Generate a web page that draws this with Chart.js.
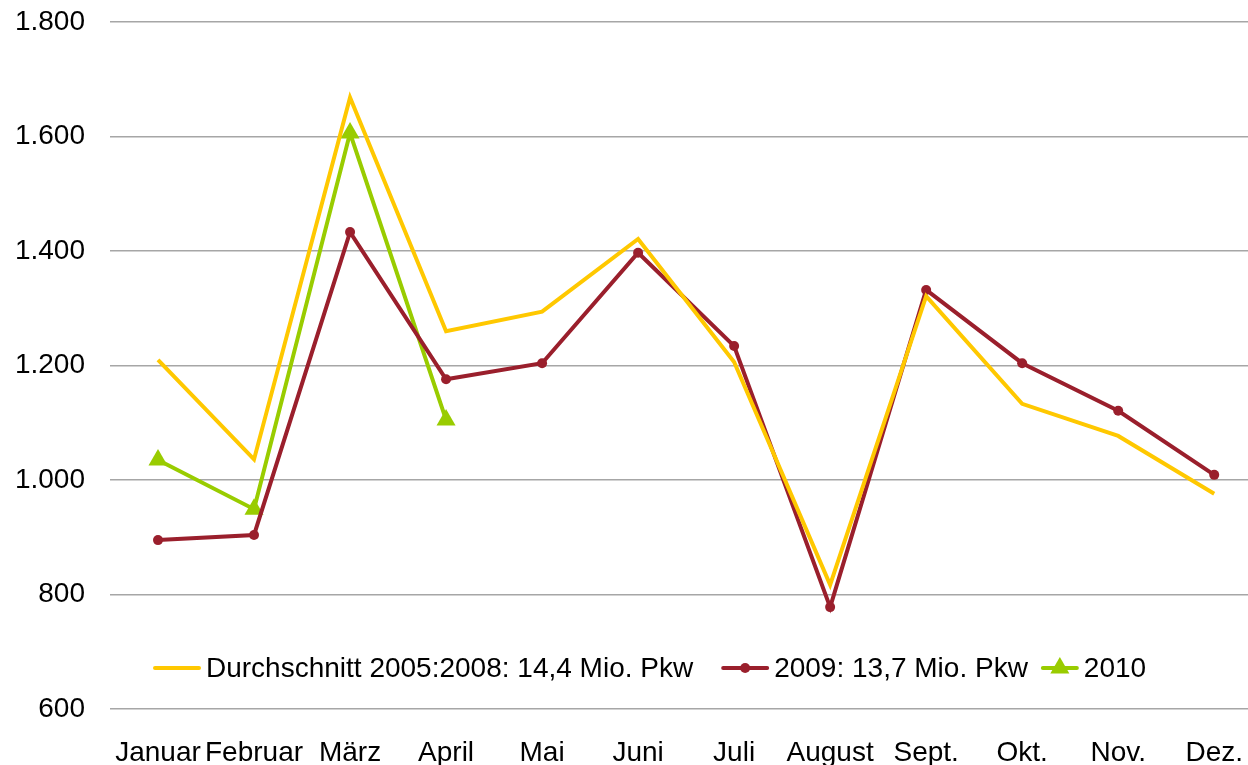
<!DOCTYPE html>
<html>
<head>
<meta charset="utf-8">
<script src="https://cdn.jsdelivr.net/npm/chart.js@4.4.1/dist/chart.umd.min.js"></script>
<style>
  html, body { margin: 0; padding: 0; background: #fff; overflow: hidden; width: 1248px; height: 765px; }
  canvas { display: block; }
</style>
</head>
<body>
<canvas id="pkw" width="1270" height="765"></canvas>
<script>
const months = ['Januar', 'Februar', 'März', 'April', 'Mai', 'Juni', 'Juli', 'August', 'Sept.', 'Okt.', 'Nov.', 'Dez.']
const avg0508 = [1210, 1036, 1668, 1260, 1294, 1421, 1206, 817, 1321, 1133, 1077, 976]
const y2009 = [895, 904, 1433, 1176, 1204, 1397, 1234, 778, 1332, 1204, 1121, 1009]
const y2010 = [1035, 949, 1606, 1105]
const seriesLabels = ['Durchschnitt 2005:2008: 14,4 Mio. Pkw', '2009: 13,7 Mio. Pkw', '2010']
const yTicks = [600, 800, 1000, 1200, 1400, 1600, 1800]

const FONT = '"Liberation Sans", Arial, sans-serif'
const YELLOW = '#FFC800'
const RED = '#9A1F2C'
const GREEN = '#99CC00'

// legend sits inside the plot, just above the 600 line
const innerLegend = {
  id: 'innerLegend',
  afterDraw(chart) {
    const ctx = chart.ctx
    const area = chart.chartArea
    const y = area.bottom - 41
    let x = 155
    ctx.save()
    ctx.font = '28px ' + FONT
    ctx.textBaseline = 'middle'
    chart.data.datasets.forEach((ds, i) => {
      const len = i === 2 ? 34 : 44
      ctx.strokeStyle = ds.borderColor
      ctx.lineWidth = 4
      ctx.lineCap = 'round'
      ctx.beginPath()
      ctx.moveTo(x, y)
      ctx.lineTo(x + len, y)
      ctx.stroke()
      if (ds.pointRadius > 0) {
        ctx.fillStyle = ds.pointBackgroundColor
        Chart.helpers.drawPoint(ctx, {pointStyle: ds.pointStyle, radius: ds.pointRadius, rotation: 0, borderWidth: 0}, x + len / 2, y)
      }
      x += len + 7
      ctx.fillStyle = '#000'
      ctx.fillText(ds.label, x, y + 1)
      x += ctx.measureText(ds.label).width + (i === 0 ? 30 : 15)
    })
    ctx.restore()
  }
}

new Chart(document.getElementById('pkw'), {
  type: 'line',
  data: {
    labels: months,
    datasets: [
      {
        label: seriesLabels[0],
        data: avg0508,
        borderColor: YELLOW,
        borderWidth: 4,
        pointRadius: 0,
        pointHoverRadius: 0,
        tension: 0
      },
      {
        label: seriesLabels[1],
        data: y2009,
        borderColor: RED,
        backgroundColor: RED,
        pointBackgroundColor: RED,
        pointBorderWidth: 0,
        borderWidth: 4,
        pointStyle: 'circle',
        pointRadius: 5,
        tension: 0
      },
      {
        label: seriesLabels[2],
        data: y2010,
        borderColor: GREEN,
        backgroundColor: GREEN,
        pointBackgroundColor: GREEN,
        pointBorderWidth: 0,
        borderWidth: 4,
        pointStyle: 'triangle',
        pointRadius: 11,
        tension: 0
      }
    ]
  },
  options: {
    responsive: false,
    animation: false,
    layout: {autoPadding: false, padding: {left: 0, top: 22, right: 0, bottom: 0}},
    plugins: {
      legend: {display: false},
      tooltip: {enabled: false}
    },
    scales: {
      x: {
        offset: true,
        grid: {display: false, drawTicks: false},
        border: {display: false},
        ticks: {
          color: '#000',
          font: {family: FONT, size: 28},
          padding: 27,
          maxRotation: 0,
          autoSkip: false
        },
        afterFit: axis => { axis.height = 56 }
      },
      y: {
        min: yTicks[0],
        max: yTicks[yTicks.length - 1],
        afterBuildTicks: axis => { axis.ticks = yTicks.map(v => ({value: v})) },
        grid: {color: '#A6A6A6', lineWidth: 1.5, drawTicks: false},
        border: {display: false},
        ticks: {
          color: '#000',
          font: {family: FONT, size: 28},
          padding: 25,
          callback: v => v.toLocaleString('de-DE')
        },
        afterFit: axis => {
          axis.width = 110
          axis.paddingTop = 0
          axis.paddingBottom = 0
        }
      }
    }
  },
  plugins: [innerLegend]
})
</script>
</body>
</html>
